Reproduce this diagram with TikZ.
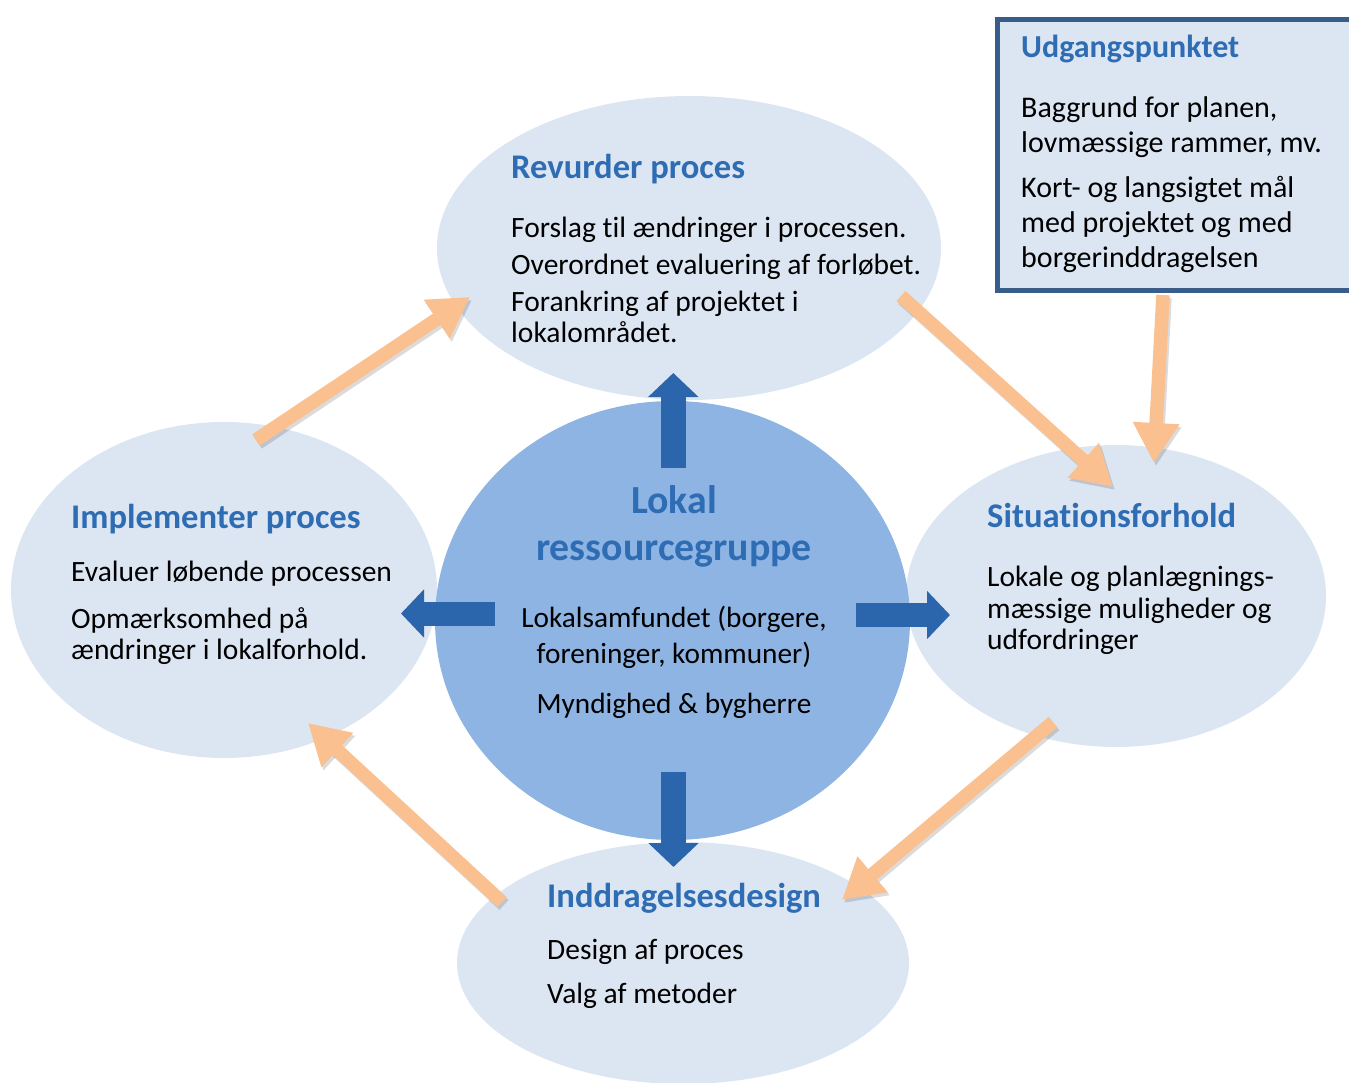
\documentclass[tikz,border=0pt]{standalone}
\usepackage{fontspec}
\setmainfont{Carlito}[Ligatures={NoCommon}]
\usetikzlibrary{shapes.geometric,arrows.meta}
\definecolor{lightell}{HTML}{DCE6F2}
\definecolor{centerell}{HTML}{8EB4E3}
\definecolor{darkarrow}{HTML}{2B65AC}
\definecolor{orangearrow}{HTML}{FAC090}
\definecolor{boxborder}{HTML}{385D8A}
\definecolor{titleblue}{HTML}{2E6CB4}
\tikzset{
  ell/.style={ellipse, inner sep=0pt, outer sep=0pt, fill=lightell},
  body/.style={anchor=base west, inner sep=0pt, font=\fontsize{29.5}{35}\selectfont},
  boxbody/.style={anchor=base west, inner sep=0pt, font=\fontsize{30}{36}\selectfont},
  bodyc/.style={anchor=base, inner sep=0pt, font=\fontsize{29.3}{35}\selectfont},
  ttl/.style={anchor=base west, inner sep=0pt, text=titleblue, font=\bfseries\fontsize{34.6}{40}\selectfont},
  boxttl/.style={anchor=base west, inner sep=0pt, text=titleblue, font=\bfseries\fontsize{32}{40}\selectfont},
  bigttl/.style={anchor=base, inner sep=0pt, text=titleblue, font=\bfseries\fontsize{39.8}{46}\selectfont},
  oarrow/.style={draw=orangearrow, line width=13.5pt, line cap=butt, -{Triangle[width=44pt,length=40pt]}},
  oshadow/.style={draw=black, opacity=0.14, line width=13.5pt, line cap=butt, -{Triangle[width=44pt,length=40pt]}},
  barrowv/.style={draw=darkarrow, line width=25pt, line cap=butt, -{Triangle[width=49pt,length=24pt]}},
  barrowh/.style={draw=darkarrow, line width=24pt, line cap=butt, -{Triangle[width=47pt,length=23pt]}},
}
\begin{document}
\begin{tikzpicture}[x=1pt,y=-1pt]
\useasboundingbox (0,0) rectangle (1349,1082);
% ellipses
\node[ell, minimum width=504pt, minimum height=304pt] (revurder) at (689,248) {};
\node[ell, minimum width=426pt, minimum height=336pt] (impl) at (224,590) {};
\node[ell, minimum width=420pt, minimum height=302pt] (situ) at (1116,596) {};
\node[ell, minimum width=452pt, minimum height=242pt] (inddr) at (683,963) {};
\node[ellipse, inner sep=0pt, outer sep=0pt, fill=centerell, minimum width=475pt, minimum height=439pt] (lokal) at (672.5,620.5) {};
% box (extends past the right edge of the page)
\node[draw=boxborder, line width=5pt, fill=lightell, anchor=north west, outer sep=0pt, minimum width=440pt, minimum height=270.5pt, inner sep=0pt] (udg) at (997.5,19.5) {};
% coordinates for connectors
\coordinate (c1s) at (256,440); \coordinate (c1e) at (470,297);
\coordinate (c2s) at (901,296); \coordinate (c2e) at (1113,487);
\coordinate (c3s) at (1163,295); \coordinate (c3e) at (1154,463);
\coordinate (c4s) at (1053,722); \coordinate (c4e) at (842,900);
\coordinate (c5s) at (502,902); \coordinate (c5e) at (308,723);
\coordinate (bu1) at (673.3,468); \coordinate (bu2) at (673.3,373);
\coordinate (bd1) at (673.5,772); \coordinate (bd2) at (673.5,867);
\coordinate (bl1) at (495,613.5); \coordinate (bl2) at (401,613.5);
\coordinate (br1) at (856,615); \coordinate (br2) at (950,615);
% blue arrows
\draw[barrowv] (bu1) -- (bu2);
\draw[barrowv] (bd1) -- (bd2);
\draw[barrowh] (bl1) -- (bl2);
\draw[barrowh] (br1) -- (br2);
% orange arrows with shadow
\foreach \s/\e in {c1s/c1e, c2s/c2e, c3s/c3e, c4s/c4e, c5s/c5e}{
  \draw[oshadow] ([shift={(2,3)}]\s) -- ([shift={(2,3)}]\e);
  \draw[oarrow] (\s) -- (\e);
}
% texts: Revurder
\node[ttl] (t1) at (511,178) {Revurder proces};
\node[body] (t1a) at (511,237) {Forslag til ændringer i processen.};
\node[body] (t1b) at (511,274) {Overordnet evaluering af forløbet.};
\node[body] (t1c) at (511,311) {Forankring af projektet i};
\node[body] (t1d) at (511,342) {lokalområdet.};
% Implementer
\node[ttl] (t2) at (71,528) {Implementer proces};
\node[body] (t2a) at (71,581) {Evaluer løbende processen};
\node[body] (t2b) at (71,628) {Opmærksomhed på};
\node[body] (t2c) at (71,659) {ændringer i lokalforhold.};
% Situationsforhold
\node[ttl] (t3) at (987,527) {Situationsforhold};
\node[body] (t3a) at (987,586) {Lokale og planlægnings-};
\node[body] (t3b) at (987,618) {mæssige muligheder og};
\node[body] (t3c) at (987,649) {udfordringer};
% Inddragelsesdesign
\node[ttl] (t4) at (547,907) {Inddragelsesdesign};
\node[body] (t4a) at (547,959) {Design af proces};
\node[body] (t4b) at (547,1003) {Valg af metoder};
% center
\node[bigttl] (t5) at (674,513) {Lokal};
\node[bigttl] (t5a) at (674,560) {ressourcegruppe};
\node[bodyc] (t5b) at (674,627) {Lokalsamfundet (borgere,};
\node[bodyc] (t5c) at (674,663) {foreninger, kommuner)};
\node[bodyc] (t5d) at (674,713) {Myndighed \& bygherre};
% box text
\node[boxttl] (t6) at (1021,57) {Udgangspunktet};
\node[boxbody] (t6a) at (1021,117) {Baggrund for planen,};
\node[boxbody] (t6b) at (1021,152) {lovmæssige rammer, mv.};
\node[boxbody] (t6c) at (1021,197) {Kort- og langsigtet mål};
\node[boxbody] (t6d) at (1021,232) {med projektet og med};
\node[boxbody] (t6e) at (1021,267) {borgerinddragelsen};
\end{tikzpicture}
\end{document}
